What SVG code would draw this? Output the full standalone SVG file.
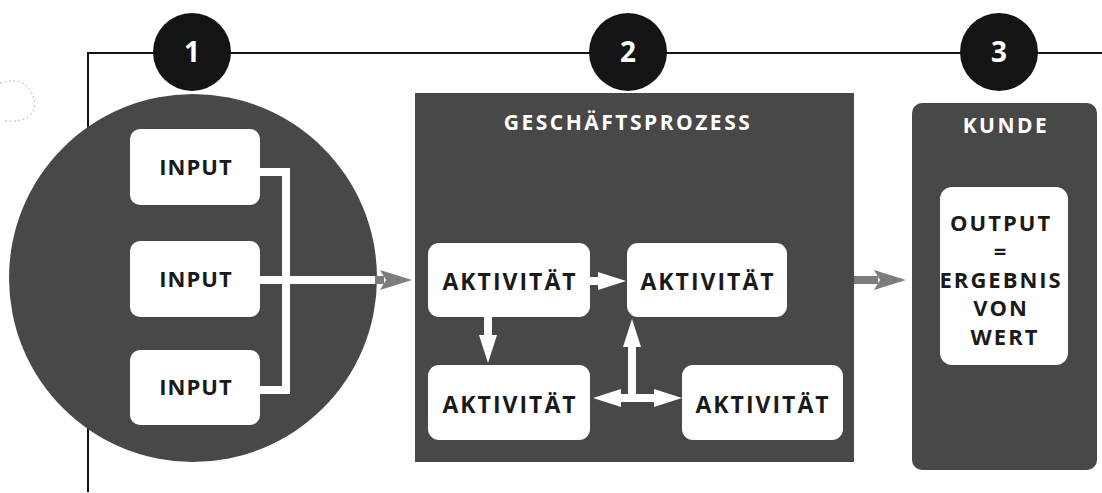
<svg xmlns="http://www.w3.org/2000/svg" width="1102" height="493" viewBox="0 0 1102 493">
  <defs>
    <style>
      .frame { fill: none; stroke: #111; stroke-width: 2; }
      .dark { fill: #484848; }
      .badge { fill: #141414; }
      .badge-t { font-family: "Open Sans", "Liberation Sans", sans-serif; font-weight: 700; font-size: 28px; fill: #fff; text-anchor: middle; }
      .box { fill: #fff; }
      .lbl { font-family: "Open Sans", "Liberation Sans", sans-serif; font-weight: 700; fill: #1a1a1a; text-anchor: middle; }
      .title { font-family: "Open Sans", "Liberation Sans", sans-serif; font-weight: 700; font-size: 21px; fill: #fff; text-anchor: middle; }
      .wline { fill: none; stroke: #fff; stroke-width: 8; }
      .wlink { fill: none; stroke: #fff; stroke-width: 8; marker-end: url(#wh); }
      .glink { fill: none; stroke: #7c7c7c; stroke-width: 8; marker-end: url(#gr); }
    </style>
    <marker id="wh" markerUnits="userSpaceOnUse" markerWidth="30" markerHeight="20" refX="0" refY="9" orient="auto-start-reverse" overflow="visible">
      <path d="M0,0 L28,9 L0,18 Z" fill="#fff"/>
    </marker>
    <marker id="gr" markerUnits="userSpaceOnUse" markerWidth="40" markerHeight="22" refX="4" refY="10" orient="auto" overflow="visible">
      <path d="M0,0 L32,10 L0,20 L6,10 Z" fill="#7c7c7c"/>
    </marker>
  </defs>

  <rect width="1102" height="493" fill="#fff"/>

  <!-- faint scan artifact -->
  <path d="M0,83 Q30,74 35,104 Q33,123 5,121" fill="none" stroke="#9a9a9a" stroke-width="1" stroke-dasharray="1.5 3"/>

  <!-- frame -->
  <g id="frame">
    <path class="frame" d="M88,492 V53 H1102"/>
  </g>

  <!-- badges -->
  <g id="badge1">
    <circle class="badge" cx="192" cy="52" r="39"/>
    <text class="badge-t" x="192" y="62">1</text>
  </g>
  <g id="badge2">
    <circle class="badge" cx="628" cy="52" r="39"/>
    <text class="badge-t" x="628" y="62">2</text>
  </g>
  <g id="badge3">
    <circle class="badge" cx="999" cy="52" r="39"/>
    <text class="badge-t" x="999" y="62">3</text>
  </g>

  <!-- input circle -->
  <g id="inputs">
    <circle class="dark" cx="193" cy="278" r="184"/>
  </g>

  <!-- process container -->
  <g id="geschaeftsprozess">
    <rect class="dark" x="415" y="93" width="439" height="369"/>
    <text class="title" x="628" y="130" letter-spacing="2.5">GESCHÄFTSPROZESS</text>
  </g>

  <!-- customer container -->
  <g id="kunde">
    <rect class="dark" x="912" y="103" width="185" height="367" rx="10"/>
    <text class="title" x="1006" y="133" letter-spacing="2.5">KUNDE</text>
  </g>

  <!-- connectors -->
  <g id="connectors">
    <path class="wline" d="M258,172 H286 V390 H258"/>
    <path class="wline" d="M258,280 H376"/>
    <path class="glink" d="M375,280 H384"/>
    <path class="glink" d="M854,280 H878"/>
    <path class="wlink" d="M588,281 H598"/>
    <path class="wlink" d="M488,315 V335"/>
    <path class="wlink" d="M632,398 V347"/>
    <path class="wline" d="M618,398 H654"/>
    <path class="wlink" d="M621,398 H654" style="marker-start:url(#wh)"/>
  </g>

  <!-- input nodes -->
  <g id="input1">
    <rect class="box" x="130" y="129" width="130" height="76" rx="10"/>
    <text class="lbl" x="196" y="175" font-size="22" letter-spacing="1">INPUT</text>
  </g>
  <g id="input2">
    <rect class="box" x="130" y="241" width="130" height="76" rx="10"/>
    <text class="lbl" x="196" y="287" font-size="22" letter-spacing="1">INPUT</text>
  </g>
  <g id="input3">
    <rect class="box" x="130" y="350" width="130" height="75" rx="10"/>
    <text class="lbl" x="196" y="395" font-size="22" letter-spacing="1">INPUT</text>
  </g>

  <!-- activity nodes -->
  <g id="aktivitaet1">
    <rect class="box" x="428" y="243" width="162" height="74" rx="11"/>
    <text class="lbl" x="510" y="290" font-size="23" letter-spacing="2">AKTIVITÄT</text>
  </g>
  <g id="aktivitaet2">
    <rect class="box" x="627" y="243" width="160" height="74" rx="11"/>
    <text class="lbl" x="708" y="290" font-size="23" letter-spacing="2">AKTIVITÄT</text>
  </g>
  <g id="aktivitaet3">
    <rect class="box" x="428" y="365" width="162" height="75" rx="11"/>
    <text class="lbl" x="510" y="413" font-size="23" letter-spacing="2">AKTIVITÄT</text>
  </g>
  <g id="aktivitaet4">
    <rect class="box" x="682" y="365" width="161" height="75" rx="11"/>
    <text class="lbl" x="763" y="413" font-size="23" letter-spacing="2">AKTIVITÄT</text>
  </g>

  <!-- output node -->
  <g id="output">
    <rect class="box" x="940" y="187" width="128" height="178" rx="12"/>
    <text class="lbl" x="1005" font-size="22" letter-spacing="2">
      <tspan x="1005" y="231">OUTPUT</tspan>
      <tspan x="1005" y="259">=</tspan>
      <tspan x="1005" y="288">ERGEBNIS</tspan>
      <tspan x="1005" y="316">VON</tspan>
      <tspan x="1005" y="345">WERT</tspan>
    </text>
  </g>
</svg>
